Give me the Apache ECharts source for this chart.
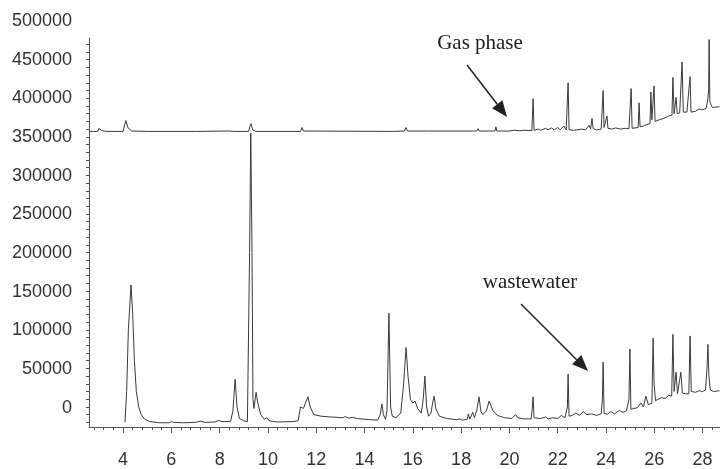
<!DOCTYPE html>
<html>
<head>
<meta charset="utf-8">
<script src="https://cdn.jsdelivr.net/npm/echarts@6/dist/echarts.min.js"></script>
<style>
html, body { margin: 0; padding: 0; background: #fff; }
#main { width: 720px; height: 469px; }
</style>
</head>
<body>
<div id="main"></div>
<script>
// retention time axis labels (min) and abundance axis labels
var xTickLabels = [4, 6, 8, 10, 12, 14, 16, 18, 20, 22, 24, 26, 28];
var yTickLabels = [0, 50000, 100000, 150000, 200000, 250000, 300000, 350000, 400000, 450000, 500000];

// [time, abundance]
var gasPhase = [
    [2.6, 357000], [2.95, 357000], [3.0, 361000], [3.05, 363000], [3.12, 358000], [3.3, 357000],
    [4.0, 357000], [4.07, 366000], [4.12, 371000], [4.2, 362000], [4.35, 357500], [5.0, 357000],
    [7.0, 357000], [8.4, 357500], [8.6, 357000], [9.2, 357000], [9.25, 363000], [9.3, 367000],
    [9.37, 359000], [9.5, 357000], [11.35, 357000], [11.41, 362000], [11.47, 357500],
    [15.1, 357000], [15.14, 358500], [15.2, 357000], [15.65, 357500], [15.72, 362000], [15.78, 357500],
    [16.6, 357500], [16.65, 359500], [16.7, 357500], [18.65, 357500], [18.7, 360500], [18.75, 357500],
    [19.4, 357500], [19.44, 363000], [19.48, 357500], [20.0, 357500], [20.2, 358500], [20.4, 357800],
    [20.6, 358500], [20.93, 358000], [20.98, 399500], [21.02, 358500], [21.2, 360000], [21.3, 358500],
    [21.5, 361000], [21.6, 359000], [21.75, 361500], [21.85, 359000], [22.0, 362000], [22.1, 359000],
    [22.25, 364000], [22.35, 359000], [22.43, 420000], [22.47, 359500], [22.6, 358500], [22.8, 359000],
    [23.0, 360000], [23.15, 359000], [23.3, 365000], [23.36, 360000], [23.42, 373700], [23.47, 360500],
    [23.6, 359000], [23.8, 360000], [23.88, 410000], [23.92, 362000], [24.04, 377000], [24.08, 361000],
    [24.25, 360000], [24.4, 361500], [24.6, 360000], [24.8, 361000], [24.95, 360500], [25.04, 412500],
    [25.08, 361000], [25.2, 361500], [25.33, 362000], [25.37, 394000], [25.41, 363000], [25.55, 364000],
    [25.7, 366000], [25.82, 367000], [25.86, 408000], [25.9, 372000], [25.99, 416000], [26.03, 370000],
    [26.2, 372000], [26.4, 374000], [26.6, 377000], [26.73, 378000], [26.77, 427000], [26.82, 380000],
    [26.9, 401000], [26.95, 380000], [27.05, 381000], [27.15, 447000], [27.2, 382000], [27.35, 382000],
    [27.48, 428000], [27.52, 382000], [27.7, 383000], [27.85, 386000], [28.0, 385000], [28.15, 387000],
    [28.22, 400000], [28.25, 412000], [28.27, 476000], [28.3, 395000], [28.4, 388000], [28.7, 389000]
];

var wastewater = [
    [4.08, -20000], [4.15, 20000], [4.22, 100000], [4.33, 158000], [4.4, 120000], [4.47, 60000],
    [4.55, 20000], [4.65, 0], [4.75, -10000], [4.9, -16000], [5.1, -19000], [5.5, -20500],
    [5.9, -20500], [6.0, -19000], [6.1, -20000], [6.5, -20500], [7.0, -20000], [7.2, -18500],
    [7.4, -20000], [7.8, -19500], [7.95, -17500], [8.1, -19000], [8.45, -19000], [8.55, -5000],
    [8.64, 36000], [8.72, 0], [8.82, -15000], [9.0, -18000], [9.15, -19000], [9.24, 200000],
    [9.29, 355000], [9.34, 200000], [9.38, 10000], [9.42, -2000], [9.51, 19000], [9.58, 5000],
    [9.7, -10000], [9.85, -16000], [9.96, -14000], [10.05, -18000], [10.4, -19500], [11.0, -19000],
    [11.25, -18000], [11.35, 0], [11.41, 1500], [11.47, -2000], [11.55, 5000], [11.66, 13000],
    [11.75, 0], [11.9, -10000], [12.2, -12000], [12.6, -13000], [13.1, -14000], [13.2, -12500],
    [13.35, -14500], [13.5, -13500], [13.7, -15000], [14.2, -16500], [14.55, -17000], [14.65, -10000],
    [14.72, 4000], [14.78, -10000], [14.87, -16000], [14.93, -5000], [15.01, 121500], [15.08, 0],
    [15.15, -12000], [15.3, -14000], [15.5, -8000], [15.62, 30000], [15.72, 77000], [15.8, 40000],
    [15.9, 10000], [16.0, 5000], [16.09, 7700], [16.2, -2000], [16.35, -8000], [16.43, 10000],
    [16.5, 40000], [16.57, 0], [16.65, -12000], [16.75, -8000], [16.82, 5000], [16.88, 14000],
    [16.95, -2000], [17.1, -12000], [17.4, -15000], [17.8, -16500], [17.95, -15500], [18.05, -17000],
    [18.25, -16000], [18.3, -9000], [18.36, -16000], [18.48, -7000], [18.55, -14000], [18.65, -4000],
    [18.74, 13000], [18.82, -6000], [18.9, -10000], [19.05, -5000], [19.16, 7700], [19.3, -4000],
    [19.5, -11000], [19.8, -14000], [20.1, -15000], [20.25, -10000], [20.35, -14000], [20.6, -15500],
    [20.9, -15500], [20.95, 0], [20.98, 13000], [21.02, -14000], [21.3, -15000], [21.5, -13000],
    [21.6, -15500], [21.8, -14000], [22.0, -15000], [22.15, -11000], [22.3, -14000], [22.4, 0],
    [22.43, 42700], [22.47, -12000], [22.6, -11000], [22.75, -8000], [22.9, -11000], [23.05, -6000],
    [23.2, -10000], [23.4, -9000], [23.6, -11000], [23.8, -9000], [23.85, 10000], [23.88, 58000],
    [23.92, -8000], [24.05, -9500], [24.2, -6000], [24.35, -9000], [24.55, -4500], [24.7, -7000],
    [24.85, -5000], [24.95, 10000], [24.99, 75000], [25.03, -3000], [25.15, -2000], [25.3, -1000],
    [25.45, 5000], [25.55, 0], [25.65, 14000], [25.75, 3000], [25.9, 5000], [25.95, 89000],
    [25.99, 30000], [26.05, 8000], [26.15, 10000], [26.3, 12000], [26.45, 11000], [26.6, 15000],
    [26.72, 14000], [26.77, 94000], [26.82, 20000], [26.9, 45000], [26.96, 17000], [27.03, 18000],
    [27.1, 45000], [27.16, 18000], [27.3, 17000], [27.43, 17000], [27.48, 92000], [27.53, 20000],
    [27.7, 19000], [27.85, 21000], [28.0, 20000], [28.12, 22000], [28.18, 50000], [28.22, 81000],
    [28.26, 40000], [28.32, 22000], [28.45, 20000], [28.7, 21000]
];

var chart = echarts.init(document.getElementById('main'));

var xMin = 2.59, xMax = 28.72;
// label grid spans 500000 .. yMin; data grid has the same scale but stops lower
var yMin = -26000, yTop = 500000;
var unitsPerPx = (yTop - yMin) / 407;
var yMaxData = yMin + 390 * unitsPerPx;

var minorX = [];
for (var t = 28; t <= 284; t += 4) minorX.push(t / 10);
var minorY = [];
for (var v = -20000; v <= 470000; v += 10000) minorY.push(v);

var axisColor = '#555';
var labelFont = {color: '#333', fontFamily: 'Liberation Sans', fontSize: 18};

function arrow(x1, y1, x2, y2) {
    var dx = x2 - x1, dy = y2 - y1;
    var len = Math.sqrt(dx * dx + dy * dy);
    var ux = dx / len, uy = dy / len;
    var head = 16, half = 6.5;
    var bx = x2 - ux * head, by = y2 - uy * head;
    return [
        {type: 'line', shape: {x1: x1, y1: y1, x2: bx, y2: by}, style: {stroke: '#222', lineWidth: 1.5}},
        {type: 'polygon', shape: {points: [[x2, y2], [bx - uy * half, by + ux * half], [bx + uy * half, by - ux * half]]},
            style: {fill: '#222'}}
    ];
}

var option = {
    backgroundColor: '#fff',
    animation: false,
    grid: [
        {left: 89, right: 0, top: 21, bottom: 41},
        {left: 89, right: 0, top: 38, bottom: 41}
    ],
    xAxis: [
        {gridIndex: 0, type: 'value', min: xMin, max: xMax, show: false},
        {
            gridIndex: 1, type: 'value', min: xMin, max: xMax, position: 'bottom', offset: 0,
            axisLine: {show: true, onZero: false, lineStyle: {color: axisColor, width: 1}},
            axisTick: {show: true, customValues: xTickLabels, length: 6, lineStyle: {color: axisColor}},
            axisLabel: Object.assign({customValues: xTickLabels, margin: 24}, labelFont),
            splitLine: {show: false}
        },
        {
            gridIndex: 1, type: 'value', min: xMin, max: xMax, position: 'bottom', offset: 0,
            axisLine: {show: false, onZero: false},
            axisTick: {show: true, customValues: minorX, length: 3, lineStyle: {color: axisColor}},
            axisLabel: {show: false},
            splitLine: {show: false}
        }
    ],
    yAxis: [
        {
            gridIndex: 0, type: 'value', min: yMin, max: yTop,
            axisLine: {show: false}, axisTick: {show: false}, splitLine: {show: false},
            axisLabel: Object.assign({
                customValues: yTickLabels, margin: 17,
                formatter: function (val) { return String(val); }
            }, labelFont)
        },
        {
            gridIndex: 1, type: 'value', min: yMin, max: yMaxData,
            axisLine: {show: true, onZero: false, lineStyle: {color: axisColor, width: 1}},
            axisTick: {show: true, customValues: minorY, length: 3, lineStyle: {color: axisColor}},
            axisLabel: {show: false},
            splitLine: {show: false}
        }
    ],
    series: [
        {
            name: 'Gas phase', type: 'line', xAxisIndex: 1, yAxisIndex: 1,
            data: gasPhase, showSymbol: false,
            lineStyle: {color: '#3a3a3a', width: 1}
        },
        {
            name: 'wastewater', type: 'line', xAxisIndex: 1, yAxisIndex: 1,
            data: wastewater, showSymbol: false,
            lineStyle: {color: '#3a3a3a', width: 1}
        }
    ],
    graphic: [
        {type: 'text', style: {text: 'Gas phase', x: 480, y: 43, font: '21px "Liberation Serif"', fill: '#222',
            align: 'center', verticalAlign: 'middle'}},
        {type: 'text', style: {text: 'wastewater', x: 530, y: 282, font: '21px "Liberation Serif"', fill: '#222',
            align: 'center', verticalAlign: 'middle'}}
    ].concat(arrow(467, 65, 507, 117)).concat(arrow(521, 304, 588, 371))
};

chart.setOption(option);
</script>
</body>
</html>
